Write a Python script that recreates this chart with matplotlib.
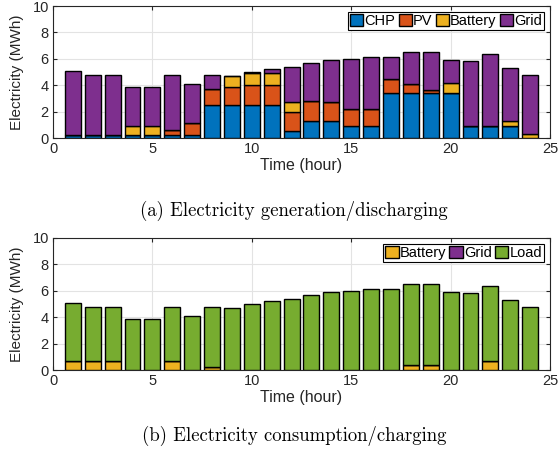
import numpy as np
import matplotlib
matplotlib.use('Agg')
from matplotlib import pyplot as plt

plt.rcParams['font.family'] = ['Liberation Sans', 'DejaVu Sans']

hours = np.arange(1, 25)

# generation / discharging (MWh)
chp = [0.2, 0.2, 0.2, 0.2, 0.2, 0.2, 0.2, 2.5, 2.5, 2.5, 2.5, 0.5,
       1.3, 1.3, 0.9, 0.9, 3.4, 3.4, 3.4, 3.4, 0.9, 0.9, 0.9, 0.0]
pv = [0.0, 0.0, 0.0, 0.0, 0.0, 0.4, 0.9, 1.2, 1.4, 1.5, 1.5, 1.5,
      1.5, 1.4, 1.3, 1.3, 1.1, 0.7, 0.2, 0.0, 0.0, 0.0, 0.0, 0.0]
bat_dis = [0.0, 0.0, 0.0, 0.7, 0.7, 0.0, 0.0, 0.0, 0.8, 0.9, 0.9, 0.7,
           0.0, 0.0, 0.0, 0.0, 0.0, 0.0, 0.0, 0.8, 0.0, 0.0, 0.4, 0.3]
total = [5.1, 4.8, 4.8, 3.9, 3.9, 4.8, 4.1, 4.8, 4.7, 5.0, 5.2, 5.4,
         5.7, 5.9, 6.0, 6.1, 6.1, 6.5, 6.5, 5.9, 5.8, 6.4, 5.3, 4.8]

# consumption / charging (MWh)
bat_ch = [0.7, 0.7, 0.7, 0.0, 0.0, 0.7, 0.0, 0.2, 0.0, 0.0, 0.0, 0.0,
          0.0, 0.0, 0.0, 0.0, 0.0, 0.4, 0.4, 0.0, 0.0, 0.7, 0.0, 0.0]
grid_ch = [0.0] * 24

chp = np.array(chp)
pv = np.array(pv)
bat_dis = np.array(bat_dis)
total = np.array(total)
grid = total - chp - pv - bat_dis
bat_ch = np.array(bat_ch)
grid_ch = np.array(grid_ch)
load = total - bat_ch - grid_ch

c_chp = '#0072BD'
c_pv = '#D95319'
c_bat = '#EDB120'
c_grid = '#7E2F8E'
c_load = '#77AC30'

fig = plt.figure(figsize=(5.6, 4.57), dpi=100)
ax1 = fig.add_axes([53 / 560, 1 - 138 / 457, 497 / 560, 132 / 457])
ax2 = fig.add_axes([53 / 560, 1 - 370 / 457, 497 / 560, 132 / 457])


def stack(ax, series, colors, labels):
    bottom = np.zeros(24)
    for vals, c, lab in zip(series, colors, labels):
        ax.bar(hours, vals, 0.8, bottom=bottom, color=c, edgecolor='black',
               linewidth=1, label=lab, zorder=3)
        bottom = bottom + vals


def style(ax):
    ax.set_xlim(0, 25)
    ax.set_ylim(0, 10)
    ax.set_xticks([0, 5, 10, 15, 20, 25])
    ax.set_yticks([0, 2, 4, 6, 8, 10])
    ax.grid(True, color='#e3e3e3', linewidth=0.8, zorder=0)
    ax.tick_params(direction='in', top=True, right=True, labelsize=10.5,
                   length=3, color='#262626', labelcolor='#262626', pad=3)
    for s in ax.spines.values():
        s.set_color('#262626')
        s.set_linewidth(0.8)
    ax.set_xlabel('Time (hour)', fontsize=11.5, color='#262626', labelpad=1)
    ax.set_ylabel('Electricity (MWh)', fontsize=11, color='#262626', labelpad=6)
    leg = ax.legend(loc='upper right', ncol=4, fontsize=10.5, handlelength=0.9,
                    handleheight=0.8, handletextpad=0.1, columnspacing=0.2,
                    borderpad=0.15, borderaxespad=0.4, fancybox=False,
                    framealpha=1, edgecolor='black')
    leg.get_frame().set_linewidth(0.8)


stack(ax1, [chp, pv, bat_dis, grid], [c_chp, c_pv, c_bat, c_grid],
      ['CHP', 'PV', 'Battery', 'Grid'])
style(ax1)
stack(ax2, [bat_ch, grid_ch, load], [c_bat, c_grid, c_load],
      ['Battery', 'Grid', 'Load'])
style(ax2)

fig.text(294 / 560, 1 - 211 / 457, '(a) Electricity generation/discharging',
         family='cmr10', fontsize=13.5, ha='center', va='center')
fig.text(294 / 560, 1 - 436 / 457, '(b) Electricity consumption/charging',
         family='cmr10', fontsize=13.5, ha='center', va='center')

fig.savefig('out.png', dpi=100)
